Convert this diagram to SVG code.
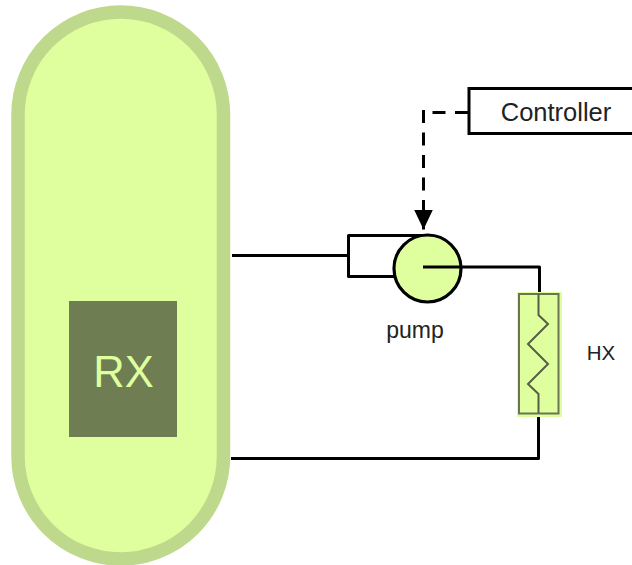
<svg xmlns="http://www.w3.org/2000/svg" width="632" height="565" viewBox="0 0 632 565">
<style>
.line{fill:none;stroke:#000;stroke-width:3;stroke-linejoin:round}
.dash{fill:none;stroke:#000;stroke-width:3;stroke-dasharray:13 9.500}
.label{font-family:"Liberation Sans",Arial,sans-serif;fill:#222;text-anchor:middle}
</style>
<defs>
<marker id="arrow" markerUnits="userSpaceOnUse" markerWidth="22" markerHeight="22" refX="20" refY="10" orient="auto"><path d="M0,0.500 L20,10 L0,19.500 Z" fill="#000"/></marker>
</defs>
<rect width="632" height="565" fill="#fff"/>
<g id="reactor">
<rect x="18" y="12" width="205.500" height="547" rx="102.750" ry="102.750" fill="#dfff9f" stroke="#bfd98c" stroke-width="13.500"/>
<rect x="69" y="301" width="108" height="136" fill="#6e7d52"/>
<text x="123.500" y="387" font-size="43.500" class="label" style="fill:#dfff9f">RX</text>
</g>
<g id="connectors">
<path class="line" d="M232 255.500H348"/>
<path class="line" d="M430 235.500H348.500V276.500H394"/>
<path class="line" d="M231 458.500H538.500V417"/>
<path class="line" d="M462 267H539.500V293"/>
<path class="dash" d="M468 112.500H424"/>
<path class="dash" d="M423.500 110V229.500" marker-end="url(#arrow)"/>
</g>
<g id="pump">
<circle cx="427.500" cy="268.500" r="33.500" fill="#dfff9f" stroke="#000" stroke-width="3.200"/>
<path class="line" d="M423 267H462"/>
<text x="415" y="337.500" font-size="23" class="label">pump</text>
</g>
<g id="hx">
<rect x="517" y="292" width="45" height="125" fill="#dfff9f"/>
<rect x="519" y="294" width="39.500" height="119.500" fill="none" stroke="#6a7552" stroke-width="2"/>
<path d="M538.500 294V315L548 324L528 344L548 364L528 384L538.500 394V413" fill="none" stroke="#555e45" stroke-width="2"/>
<text x="601" y="360" font-size="20.500" class="label">HX</text>
</g>
<g id="controller">
<rect x="469" y="88.500" width="170" height="45" fill="#fff" stroke="#000" stroke-width="3"/>
<text x="556" y="121" font-size="25.500" class="label">Controller</text>
</g>
</svg>
